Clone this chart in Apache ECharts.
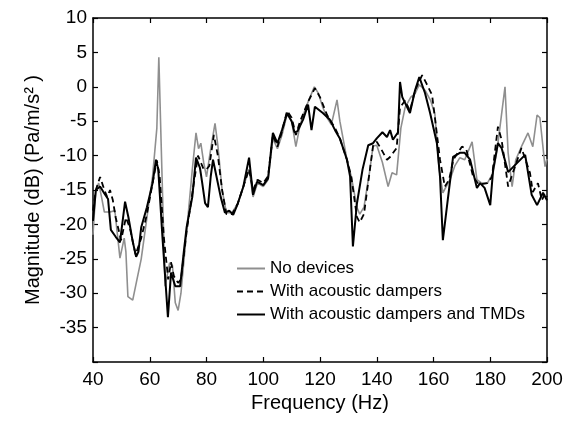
<!DOCTYPE html>
<html><head><meta charset="utf-8">
<script src="https://cdn.jsdelivr.net/npm/echarts@6/dist/echarts.min.js"></script>
<style>html,body{margin:0;padding:0;background:#fff}#c{width:575px;height:425px}</style>
</head><body><div id="c"></div>
<script>
// Frequency (Hz) / magnitude (dB)
const freqNone = [40,41,42,43,44,46,47.7,49.5,51,51.6,52.3,54,55.5,57,59,61,62.5,63.2,64,65.4,67,68,69,70,71,73,75,76.3,77.2,78,79,80,81.5,83,84,85.5,87,89,91,93,95,96.4,98,100,101.7,103.4,105,106.6,108.4,110,111.5,113,115,116.5,118,119.5,121,122.5,124,126,127,129.5,131,133,134,135.5,137.6,138.7,140,142,144,145.4,147,148.5,150,152,153.5,155,157,159,160.5,162,163.3,165.8,167.5,169.3,171,173.6,175.3,177,179,181,182.4,185.2,186.3,187.7,189,191.2,193.3,195,196.5,197.5,199.3,200];
const magNone = [-21.5,-15,-14,-16,-18.2,-18.2,-18,-24.9,-22,-24,-30.5,-31,-28,-25,-19,-13,-6,4.3,-8,-29,-25.6,-26,-31.4,-32.5,-30,-21,-12,-6.7,-9,-8.2,-11,-13.1,-9,-5.3,-8.5,-15,-18.3,-18.3,-17,-14.5,-12,-16,-14,-14.5,-13.5,-7.5,-9,-7,-4,-5,-8.7,-5.5,-3,-1.5,0,-1,-3,-4.5,-5.5,-1.9,-5,-10.6,-13,-17.5,-18.5,-17.5,-12,-8.6,-8.5,-11,-14.5,-12.5,-12.8,-6,-3,-1.5,-1,0.3,-0.5,-2,-4,-12,-15.4,-13.5,-11.5,-10.3,-10.6,-8,-13.5,-14,-14,-12.5,-9.2,0,-9.6,-14.5,-10.6,-8.5,-6.7,-8.7,-4.1,-4.5,-11.6,-10.5];

const freqDamp = [40,41,42.5,44,45,46,47,48,49.9,51.6,53,55,57,59,61,62.5,63.5,65,66.5,67.5,68.5,70,71,73,75,77,78,79,80,81,82.6,84,85.5,87,89,91,93,95,96.4,98,100,101.7,103.4,105,106.6,108.4,110,111.5,113,115,116,118.2,120,122.5,125.3,127,129.5,131,133,134,135.5,137.6,138.7,140,141.5,143.6,144.7,147,148.2,150,151.7,153.5,156,157.5,159.5,160.5,162.3,164,165.5,167,170,171.5,174,176,179,180.6,182.7,184,186.3,188.7,191,194,195,196.8,198.2,199.3,200];
const magDamp = [-18,-15,-13.1,-15,-16,-15,-16.5,-19,-22.3,-19,-20.5,-24.4,-22,-18.5,-14,-10.7,-13,-22,-28,-25.5,-27.5,-28.5,-28,-21,-15.5,-10,-11,-12,-12,-11.5,-7,-10,-15,-18.5,-18.5,-17,-14.5,-12,-15,-13.5,-14,-13,-7,-8.7,-6.5,-3.5,-4.5,-7,-5,-3,-2,-0.2,-1.5,-4.1,-6,-7.5,-10.6,-13,-18.9,-19.7,-18.5,-12,-8.6,-8,-9,-10.6,-10.2,-8.9,-3,-2,-3.5,-0.5,1.7,0.5,-1.2,-4.5,-10.6,-14.5,-13.5,-10.6,-8.7,-9,-13.1,-14.2,-14,-13.1,-5.8,-7.7,-14.5,-11.6,-8.9,-12.5,-15.3,-14,-16.5,-15.5,-16];

const freqTmd = [40,41,42.5,44,45.3,46.3,48,49.5,51.3,52.5,54,55.2,56,57,59,61,62.2,63,64.5,66.4,67.5,69,70.7,72,73,75,76.3,77.7,78.5,79.5,80.5,81.5,82.3,83.5,85,86.5,88,89.4,91,93,95,96.4,97.8,100,101.7,103.4,105,106.6,108.4,110,111,112,114,115.8,117,118.2,121,123.5,125.3,127,129.5,130.6,131.6,133,135,137,138.7,140,142,143.6,144.7,145.7,147.5,148.2,149,151.7,153.5,155,157,158.8,161.2,162.3,163.3,165,166.9,169.3,171,172.9,175.3,176.4,178,180,181,182.7,184,186.3,189.4,192.3,194.6,196.5,198.6,200];
const magTmd = [-19.5,-15,-14.5,-15.5,-16.3,-20.8,-21.8,-22.6,-16.7,-19,-22.5,-24.7,-24,-20.4,-17.5,-14,-10.6,-12,-22,-33.5,-27,-29,-29,-24,-20.4,-16,-10.3,-11.8,-14,-16.9,-17.5,-13,-10.6,-13,-16,-18.3,-18,-18.6,-17,-14.5,-10.3,-15.7,-13.8,-14.3,-13.3,-6.7,-8.2,-6.3,-3.8,-5,-6.6,-6.5,-4.8,-2.6,-6.3,-2.9,-3.8,-4.8,-6.3,-7.5,-10.6,-13,-23.2,-17,-12,-8.5,-8.2,-7.5,-6.6,-7.3,-6.3,-7.7,-6.6,0.7,-1.5,-3.8,-0.5,1.4,-0.9,-3.8,-8.2,-13.1,-22.3,-16.5,-10.2,-9.6,-9.6,-10.6,-14.7,-14,-14.7,-17.2,-12.1,-8.2,-8.9,-12.4,-11.1,-9.9,-15.7,-17.2,-15.4,-16.5];

const seriesNames = ['No devices','With acoustic dampers','With acoustic dampers and TMDs'];
const xTicks = [40,200,20];
const yTicks = [-40,10,5];

const zip = (f, m) => f.map((x, i) => [x, m[i]]);
const font = 'Liberation Sans, Arial, sans-serif';
const chart = echarts.init(document.getElementById('c'), null, {renderer:'canvas'});
const axLine = {show:true, onZero:false, lineStyle:{color:'#000', width:1.5}};
const tick = {show:true, inside:true, length:5, lineStyle:{color:'#000', width:1.2}};
chart.setOption({
  animation:false,
  backgroundColor:'#fff',
  grid:{left:93, right:28, top:18, bottom:63, containLabel:false},
  legend:{
    left:231, top:255, orient:'vertical', itemWidth:28, itemHeight:14, itemGap:6,
    itemStyle:{opacity:0},
    textStyle:{fontFamily:font, fontSize:17, color:'#000'},
    data:seriesNames
  },
  xAxis:[{
    type:'value', min:xTicks[0], max:xTicks[1], interval:xTicks[2],
    name:'Frequency (Hz)', nameLocation:'middle', nameGap:31,
    nameTextStyle:{fontFamily:font, fontSize:20, color:'#000'},
    axisLine:axLine, axisTick:tick, splitLine:{show:false},
    axisLabel:{fontFamily:font, fontSize:19, color:'#000', margin:8}
  },{
    type:'value', position:'top', min:xTicks[0], max:xTicks[1], interval:xTicks[2],
    axisLine:axLine, axisTick:tick, axisLabel:{show:false}, splitLine:{show:false}
  }],
  yAxis:[{
    type:'value', min:yTicks[0], max:yTicks[1], interval:yTicks[2],
    name:'Magnitude (dB) (Pa/m/s² )', nameLocation:'middle', nameGap:50,
    nameTextStyle:{fontFamily:font, fontSize:20, color:'#000'},
    axisLine:axLine, axisTick:tick, splitLine:{show:false},
    axisLabel:{fontFamily:font, fontSize:19, color:'#000', margin:6,
      formatter:v => v === yTicks[0] ? '' : String(v)}
  },{
    type:'value', position:'right', min:yTicks[0], max:yTicks[1], interval:yTicks[2],
    axisLine:axLine, axisTick:tick, axisLabel:{show:false}, splitLine:{show:false}
  }],
  series:[
    {name:seriesNames[0], type:'line', data:zip(freqNone, magNone), symbol:'none',
     color:'#8f8f8f', lineStyle:{color:'#8f8f8f', width:1.6}},
    {name:seriesNames[1], type:'line', data:zip(freqDamp, magDamp), symbol:'none',
     color:'#000', lineStyle:{color:'#000', width:1.8, type:[6,4]}},
    {name:seriesNames[2], type:'line', data:zip(freqTmd, magTmd), symbol:'none',
     color:'#000', lineStyle:{color:'#000', width:2}}
  ]
});
</script></body></html>
